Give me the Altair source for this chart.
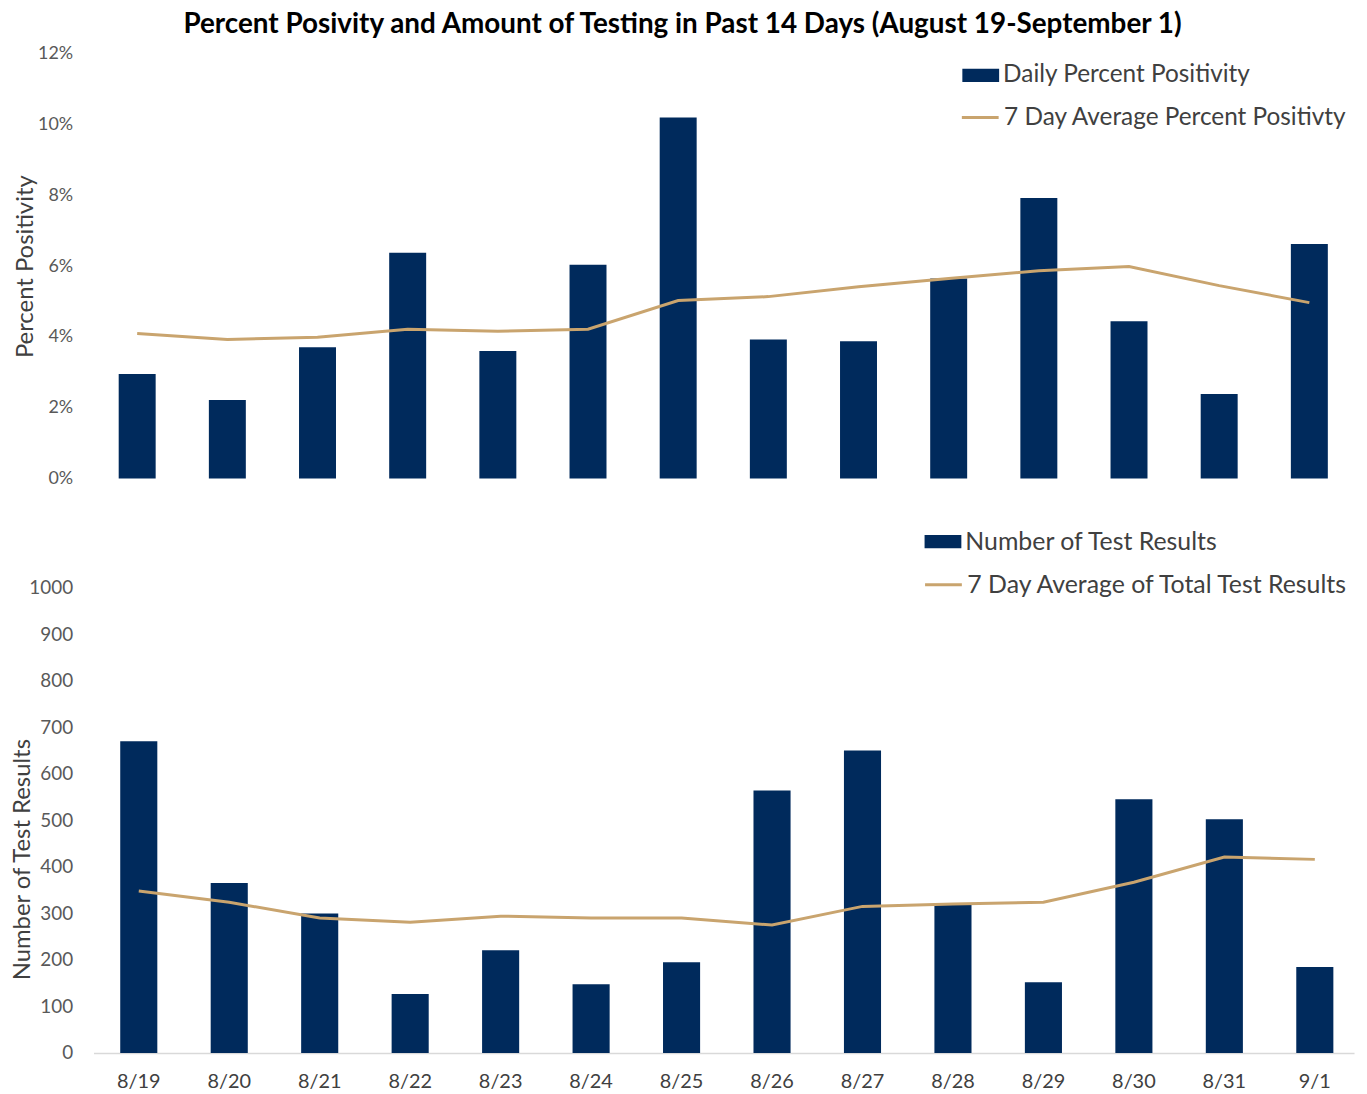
import altair as alt
import pandas as pd

dates = ["8/19", "8/20", "8/21", "8/22", "8/23", "8/24", "8/25",
         "8/26", "8/27", "8/28", "8/29", "8/30", "8/31", "9/1"]
daily_pos = [2.95, 2.22, 3.71, 6.38, 3.60, 6.04, 10.20,
             3.93, 3.88, 5.65, 7.93, 4.44, 2.39, 6.63]
avg_pos = [4.10, 3.93, 3.99, 4.22, 4.16, 4.22, 5.03,
           5.14, 5.42, 5.65, 5.87, 5.99, 5.45, 4.97]
tests = [670, 365, 300, 127, 221, 148, 195,
         564, 650, 320, 152, 545, 502, 185]
avg_tests = [348, 324, 290, 281, 294, 290, 290,
             275, 315, 320, 324, 367, 421, 416]

BAR_COLOR = "#002A5C"
LINE_COLOR = "#C9A46E"
FONT = "Lato"
TXT = "#404040"
AX = "#595959"

df = pd.DataFrame({
    "date": dates,
    "pos": daily_pos,
    "pos_avg": avg_pos,
    "tests": tests,
    "tests_avg": avg_tests,
})

RECT = "M-1,-0.36H1V0.36H-1Z"


def leg(x, y, rect, fs):
    kw = dict(orient="none", legendX=x, legendY=y, title=None,
              labelFont=FONT, labelFontSize=fs, labelColor=TXT, labelLimit=600,
              labelOffset=4, padding=0, symbolSize=1369)
    if rect:
        kw.update(symbolType=RECT, symbolStrokeWidth=0)
    else:
        kw.update(symbolType="stroke", symbolStrokeWidth=3)
    return alt.Legend(**kw)


top_base = alt.Chart(df).transform_calculate(
    s1="'Daily Percent Positivity'",
    s2="'7 Day Average Percent Positivty'",
)
top_xscale = alt.Scale(paddingInner=0.59, paddingOuter=0.274, align=0.51, round=False)
top_y_axis = alt.Axis(
    values=[0, 2, 4, 6, 8, 10, 12], labelExpr="datum.value + '%'",
    grid=False, ticks=False, domain=False, labelPadding=21,
    minExtent=47, maxExtent=47, titlePadding=9,
    labelFont=FONT, labelFontSize=18, labelColor=AX,
    titleFont=FONT, titleFontSize=24, titleFontWeight="normal", titleColor=TXT,
)
top_bars = top_base.mark_bar().encode(
    x=alt.X("date:N", sort=dates, axis=None, scale=top_xscale),
    y=alt.Y("pos:Q", scale=alt.Scale(domain=[0, 12], nice=False), axis=top_y_axis,
            title="Percent Positivity"),
    color=alt.Color("s1:N", scale=alt.Scale(domain=["Daily Percent Positivity"], range=[BAR_COLOR]),
                    legend=leg(874, 3, True, 24.5)),
)
top_line = top_base.mark_line(strokeWidth=3).encode(
    x=alt.X("date:N", sort=dates, axis=None, scale=top_xscale),
    y=alt.Y("pos_avg:Q"),
    stroke=alt.Stroke("s2:N", scale=alt.Scale(domain=["7 Day Average Percent Positivty"], range=[LINE_COLOR]),
                      legend=leg(872, 44, False, 24.5)),
)
top = alt.layer(top_bars, top_line).properties(width=1266, height=427)

bot_base = alt.Chart(df).transform_calculate(
    s3="'Number of Test Results'",
    s4="'7 Day Average of Total Test Results'",
)
bot_xscale = alt.Scale(paddingInner=0.59, paddingOuter=0.262, align=0.564, round=False)
bot_y_axis = alt.Axis(
    values=list(range(0, 1001, 100)), format="d",
    grid=False, ticks=False, domain=False, labelPadding=21,
    minExtent=50, maxExtent=50, titlePadding=9, titleY=336,
    labelFont=FONT, labelFontSize=19, labelColor=AX,
    titleFont=FONT, titleFontSize=24, titleFontWeight="normal", titleColor=TXT,
)
bot_x_axis = alt.Axis(
    title=None, labelAngle=0, ticks=False, domain=True, domainColor="#D9D9D9",
    domainWidth=1.5, labelPadding=19, grid=False,
    labelFont=FONT, labelFontSize=20, labelColor=TXT,
)
bot_bars = bot_base.mark_bar().encode(
    x=alt.X("date:N", sort=dates, axis=bot_x_axis, scale=bot_xscale),
    y=alt.Y("tests:Q", scale=alt.Scale(domain=[0, 1134], nice=False), axis=bot_y_axis,
            title="Number of Test Results"),
    color=alt.Color("s3:N", scale=alt.Scale(domain=["Number of Test Results"], range=[BAR_COLOR]),
                    legend=leg(836, -2, True, 25)),
)
bot_line = bot_base.mark_line(strokeWidth=3).encode(
    x=alt.X("date:N", sort=dates, axis=bot_x_axis, scale=bot_xscale),
    y=alt.Y("tests_avg:Q"),
    stroke=alt.Stroke("s4:N", scale=alt.Scale(domain=["7 Day Average of Total Test Results"], range=[LINE_COLOR]),
                      legend=leg(835, 40, False, 25)),
)
bot = alt.layer(bot_bars, bot_line).properties(width=1268, height=531)

chart = alt.vconcat(top, bot, spacing=36).resolve_scale(
    color="independent", stroke="independent", x="independent", y="independent"
).properties(
    background="white",
    padding={"left": 3, "top": 0, "right": 5, "bottom": 0},
    title=alt.TitleParams(
        "Percent Posivity and Amount of Testing in Past 14 Days (August 19-September 1)",
        font=FONT, fontSize=28, fontWeight="bold", color="#000000", anchor="middle", offset=6,
    )
).configure_view(strokeWidth=0, stroke="transparent")

chart.save("out.html", embed_options={"renderer": "svg", "actions": False})
